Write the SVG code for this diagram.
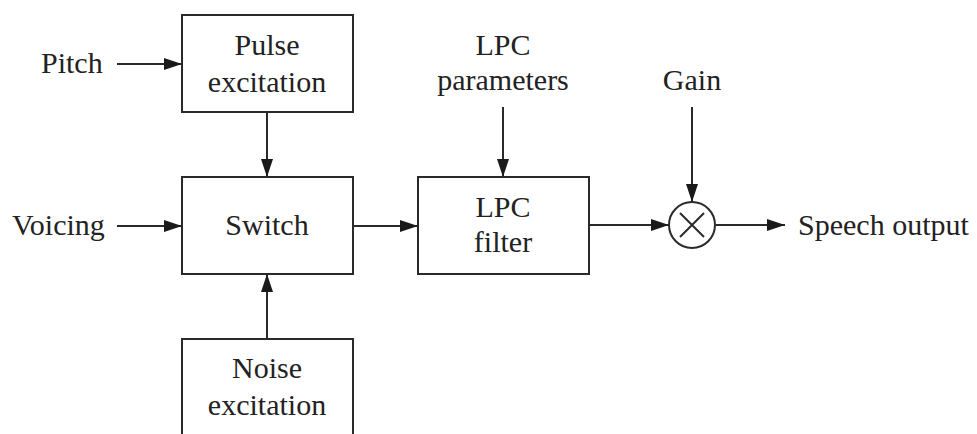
<svg xmlns="http://www.w3.org/2000/svg" width="977" height="434" viewBox="0 0 977 434">
<style>
.box{fill:#fff;stroke:#2a2a2a;stroke-width:2}
.ln{fill:none;stroke:#2a2a2a;stroke-width:2;marker-end:url(#ah)}
text{font-family:"Liberation Serif","Times New Roman",serif;font-size:30px;fill:#222}
.c{text-anchor:middle}
</style>
<defs>
<marker id="ah" markerUnits="userSpaceOnUse" markerWidth="18" markerHeight="12" viewBox="0 0 18 12" refX="18" refY="6" orient="auto">
<path d="M0,0 L18,6 L0,12 Z" fill="#1a1a1a"/>
</marker>
</defs>
<rect width="977" height="434" fill="#fff"/>
<g id="connectors">
<line class="ln" x1="117" y1="64" x2="182" y2="64"/>
<line class="ln" x1="267" y1="112" x2="267" y2="177"/>
<line class="ln" x1="117" y1="226" x2="182" y2="226"/>
<line class="ln" x1="267" y1="339" x2="267" y2="274"/>
<line class="ln" x1="353" y1="226" x2="418" y2="226"/>
<line class="ln" x1="503" y1="107" x2="503" y2="177"/>
<line class="ln" x1="589" y1="225" x2="669" y2="225"/>
<line class="ln" x1="692" y1="107" x2="692" y2="202"/>
<line class="ln" x1="716" y1="225" x2="785" y2="225"/>
</g>
<g id="pitch"><text x="41" y="73">Pitch</text></g>
<g id="voicing"><text x="12" y="235">Voicing</text></g>
<g id="pulse">
<rect class="box" x="182" y="15" width="171" height="97"/>
<text class="c" x="267" y="55">Pulse</text>
<text class="c" x="267" y="92">excitation</text>
</g>
<g id="switch">
<rect class="box" x="182" y="177" width="171" height="97"/>
<text class="c" x="267" y="235">Switch</text>
</g>
<g id="noise">
<rect class="box" x="182" y="339" width="171" height="100"/>
<text class="c" x="267" y="378">Noise</text>
<text class="c" x="267" y="415">excitation</text>
</g>
<g id="lpcparams">
<text class="c" x="503" y="55">LPC</text>
<text class="c" x="503" y="90">parameters</text>
</g>
<g id="lpcfilter">
<rect class="box" x="418" y="177" width="171" height="97"/>
<text class="c" x="503" y="217">LPC</text>
<text class="c" x="503" y="252">filter</text>
</g>
<g id="gain"><text class="c" x="692" y="90">Gain</text></g>
<g id="multiplier">
<circle cx="692" cy="225" r="23" fill="#fff" stroke="#2a2a2a" stroke-width="2"/>
<path d="M680,213 L704,237 M704,213 L680,237" stroke="#2a2a2a" stroke-width="2"/>
</g>
<g id="speech"><text x="798" y="235">Speech output</text></g>
</svg>
